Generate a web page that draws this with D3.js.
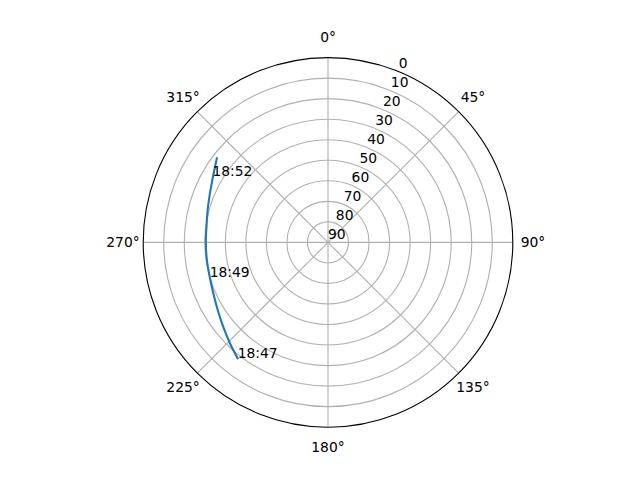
<!DOCTYPE html>
<html>
<head>
<meta charset="utf-8">
<script src="https://cdn.jsdelivr.net/npm/d3@7"></script>
<style>
  html, body { margin: 0; padding: 0; background: #fff; }
  svg text { font-family: "DejaVu Sans", sans-serif; font-size: 13.89px; fill: #000; }
</style>
</head>
<body>
<div id="chart"></div>
<script>
// satellite pass: azimuth (deg, clockwise from north) and elevation (deg)
var azimuth   = [217.9, 224.2, 231.2, 238.5, 246.1, 253.8, 261.8, 270.0, 278.9, 285.1, 291.1, 296.9, 302.5, 307.1];
var elevation = [18.4, 21.5, 24.5, 27.0, 28.9, 30.0, 30.4, 30.5, 30.2, 29.3, 28.1, 26.5, 24.4, 22.1];

// time stamps along the pass
var labelTimes = ["18:47", "18:49", "18:52"];
var labelAz    = [217.9, 253.8, 300.0];
var labelEl    = [18.4, 30.0, 25.0];

// tick labels
var thetaTicks = [0, 45, 90, 135, 180, 225, 270, 315];
var rTicks     = [0, 10, 20, 30, 40, 50, 60, 70, 80, 90];
var rGrid      = [10, 20, 30, 40, 50, 60, 70, 80];

var width = 640, height = 480;
var cx = 328, cy = 242.4, R = 184.8;
var rLabelAngle = 22.5;

var svg = d3.select("#chart")
  .append("svg")
    .attr("width", width)
    .attr("height", height);

svg.append("rect")
  .attr("width", width)
  .attr("height", height)
  .attr("fill", "#fff");

var g = svg.append("g")
  .attr("transform", "translate(" + cx + "," + cy + ")");

// elevation 0 on the rim, 90 in the middle
var r = d3.scaleLinear().domain([0, 90]).range([R, 0]);
var rad = function(d) { return d * Math.PI / 180; };

// grid circles
g.selectAll(".rgrid")
  .data(rGrid)
  .enter().append("circle")
    .attr("class", "rgrid")
    .attr("r", function(d) { return r(d); })
    .attr("fill", "none")
    .attr("stroke", "#b0b0b0")
    .attr("stroke-width", 1.11);

// spokes
g.selectAll(".tgrid")
  .data(thetaTicks)
  .enter().append("line")
    .attr("class", "tgrid")
    .attr("x1", 0)
    .attr("y1", 0)
    .attr("x2", function(d) { return R * Math.sin(rad(d)); })
    .attr("y2", function(d) { return -R * Math.cos(rad(d)); })
    .attr("stroke", "#b0b0b0")
    .attr("stroke-width", 1.11);

// outer spine
g.append("circle")
  .attr("r", R)
  .attr("fill", "none")
  .attr("stroke", "#000")
  .attr("stroke-width", 1.11);

// the pass
var pts = azimuth.map(function(a, i) { return [a, elevation[i]]; });
var line = d3.lineRadial()
  .angle(function(d) { return rad(d[0]); })
  .radius(function(d) { return r(d[1]); })
  .curve(d3.curveCatmullRom);

g.append("path")
  .datum(pts)
  .attr("d", line)
  .attr("fill", "none")
  .attr("stroke", "#1f77b4")
  .attr("stroke-width", 2.08)
  .attr("stroke-linecap", "square");

// time labels
g.selectAll(".tlabel")
  .data(labelTimes)
  .enter().append("text")
    .attr("class", "tlabel")
    .attr("x", function(d, i) { return r(labelEl[i]) * Math.sin(rad(labelAz[i])); })
    .attr("y", function(d, i) { return -r(labelEl[i]) * Math.cos(rad(labelAz[i])); })
    .attr("text-anchor", "start")
    .text(function(d) { return d; });

// angle labels
g.selectAll(".thlabel")
  .data(thetaTicks)
  .enter().append("text")
    .attr("class", "thlabel")
    .attr("x", function(d) { return 205 * Math.sin(rad(d)); })
    .attr("y", function(d) { return -205 * Math.cos(rad(d)) + 5; })
    .attr("text-anchor", "middle")
    .text(function(d) { return d + "°"; });

// radial labels
g.selectAll(".rlabel")
  .data(rTicks)
  .enter().append("text")
    .attr("class", "rlabel")
    .attr("x", function(d) { return r(d) * Math.sin(rad(rLabelAngle)); })
    .attr("y", function(d) { return -r(d) * Math.cos(rad(rLabelAngle)) - 3.3; })
    .attr("text-anchor", "start")
    .text(function(d) { return d; });
</script>
</body>
</html>
